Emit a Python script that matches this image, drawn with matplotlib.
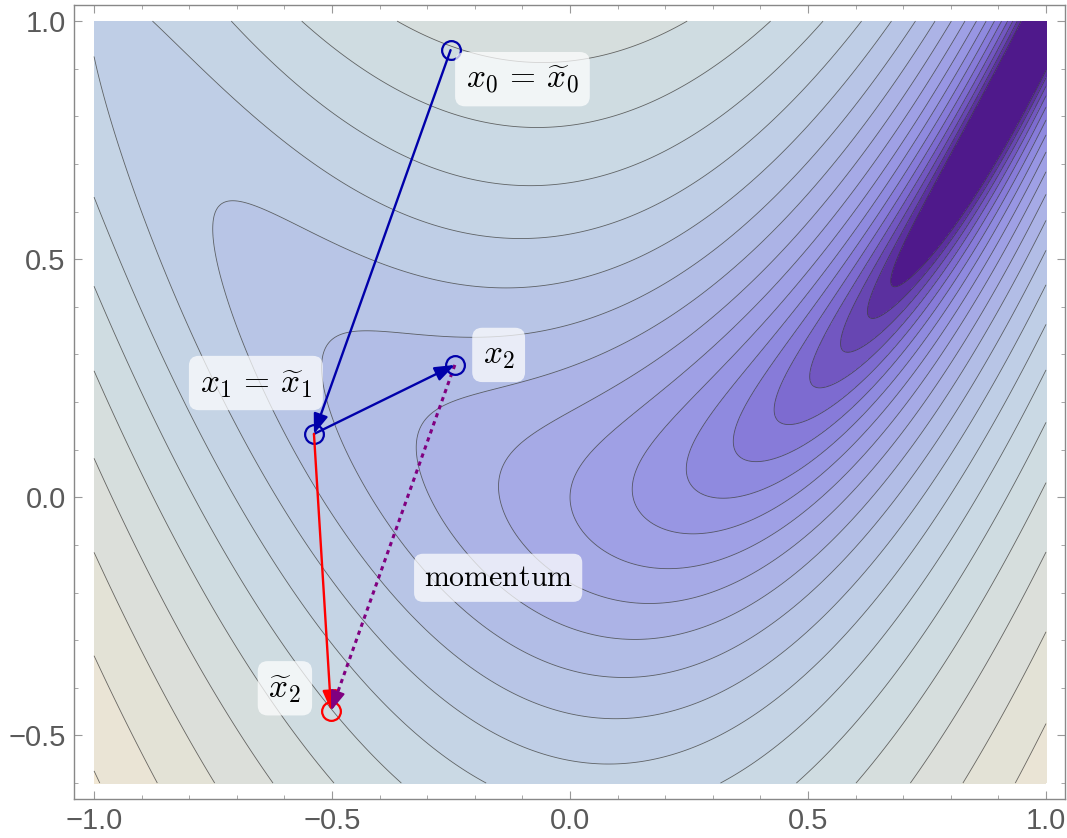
import numpy as np
import matplotlib.pyplot as plt
from matplotlib.colors import LinearSegmentedColormap
from matplotlib.ticker import MultipleLocator, FuncFormatter

plt.rcParams['mathtext.fontset'] = 'cm'

# Funcion de prueba (Rosenbrock suave) y niveles de contorno en escala log
a_coef, b_coef = 1.0, 10.0
x_range = [-1.0, 1.0]
y_range = [-0.6, 1.0]
level_step = 0.28
level_k = list(range(-8, 13))

# Puntos del metodo
x0 = [-0.251, 0.939]
x1 = [-0.538, 0.133]
x2 = [-0.242, 0.278]
x2_tilde = [-0.502, -0.448]

# Etiquetas y posiciones
labels = [r'$x_0\,=\,\widetilde{x}_0$', r'$x_1\,=\,\widetilde{x}_1$', r'$x_2$',
          r'$\mathrm{momentum}$', r'$\widetilde{x}_2$']
label_x = [-0.100, -0.660, -0.150, -0.151, -0.599]
label_y = [0.878, 0.240, 0.299, -0.169, -0.401]
label_size = [24, 24, 24, 21.5, 24]

# Colores aproximados del gradiente por defecto
cmap_vals = [-2.5, -1.9, -1.2, -0.6, 0.0, 0.8, 1.4, 2.0, 2.5, 3.0, 3.5]
cmap_cols = ['#4A1082', '#6440AE', '#8070D4', '#9390E2', '#A3A5E6', '#B4C0E6',
             '#C2D2E6', '#CDDCE3', '#D8DEDC', '#E4E2D6', '#F1E7D3']

blue = '#0000AA'
red = '#FF0000'
purple = '#800080'

# Campo
xs = np.linspace(x_range[0], x_range[1], 700)
ys = np.linspace(y_range[0], y_range[1], 560)
X, Y = np.meshgrid(xs, ys)
F = (a_coef - X)**2 + b_coef * (Y - X**2)**2
Z = np.log(F + 1e-9)

levels = [level_step * k for k in level_k]
fill_levels = [-30] + levels + [10]

lo, hi = cmap_vals[0], cmap_vals[-1]
cmap = LinearSegmentedColormap.from_list(
    'mma', [((v - lo) / (hi - lo), c) for v, c in zip(cmap_vals, cmap_cols)])
mids = [levels[0] - level_step / 2] + \
       [(levels[i] + levels[i + 1]) / 2 for i in range(len(levels) - 1)] + \
       [levels[-1] + level_step / 2]
band_colors = [cmap((m - lo) / (hi - lo)) for m in mids]

fig = plt.figure(figsize=(10.67, 8.38), dpi=100)
ax = fig.add_axes([0.0694, 0.0471, 0.9288, 0.9465])

ax.contourf(X, Y, Z, levels=fill_levels, colors=band_colors)
ax.contour(X, Y, Z, levels=levels, colors='#3a3a3a', linewidths=0.6, alpha=0.75,
           linestyles='solid', negative_linestyles='solid')

# Flechas
def arrow(p, q, color, lw=1.7):
    ax.annotate('', xy=q, xytext=p,
                arrowprops=dict(arrowstyle='-|>,head_length=0.6,head_width=0.22',
                                color=color, lw=lw, shrinkA=0, shrinkB=0,
                                mutation_scale=20))

arrow(x0, x1, blue)
arrow(x1, x2, blue)
arrow(x1, x2_tilde, red)

# momentum: linea punteada + punta solida
ax.plot([x2[0], x2_tilde[0]], [x2[1], x2_tilde[1]], color=purple, lw=2.2,
        linestyle=(0, (1.4, 1.4)))
d = np.array(x2_tilde) - np.array(x2)
ax.annotate('', xy=x2_tilde, xytext=np.array(x2_tilde) - 0.06 * d,
            arrowprops=dict(arrowstyle='-|>,head_length=0.6,head_width=0.22',
                            color=purple, lw=1.5, shrinkA=0, shrinkB=0,
                            mutation_scale=20))

# Circulos
for p in [x0, x1, x2]:
    ax.plot(p[0], p[1], 'o', ms=13.5, mfc='none', mec=blue, mew=1.6)
ax.plot(x2_tilde[0], x2_tilde[1], 'o', ms=13.5, mfc='none', mec=red, mew=1.6)

for txt, lx, ly, fs in zip(labels, label_x, label_y, label_size):
    ax.text(lx, ly, txt, fontsize=fs, ha='center', va='center', color='black',
            bbox=dict(boxstyle='round,pad=0.32,rounding_size=0.3',
                      fc='white', ec='none', alpha=0.72))

ax.set_xlim(-1.042, 1.040)
ax.set_ylim(-0.6325, 1.033)

fmt = FuncFormatter(lambda v, pos: ('%.1f' % v).replace('-', '\u2212'))
ax.xaxis.set_major_locator(MultipleLocator(0.5))
ax.yaxis.set_major_locator(MultipleLocator(0.5))
ax.xaxis.set_minor_locator(MultipleLocator(0.1))
ax.yaxis.set_minor_locator(MultipleLocator(0.1))
ax.xaxis.set_major_formatter(fmt)
ax.yaxis.set_major_formatter(fmt)
ax.tick_params(which='both', direction='in', top=True, right=True, color='#999999')
ax.tick_params(which='major', length=6, width=0.8, labelsize=21,
               labelcolor='#5a5a5a', pad=6)
ax.tick_params(which='minor', length=3, width=0.6)
for lab in ax.get_xticklabels() + ax.get_yticklabels():
    lab.set_fontfamily('Liberation Sans')
for s in ax.spines.values():
    s.set_color('#888888')
    s.set_linewidth(1.0)

fig.savefig('out.png', dpi=100)
